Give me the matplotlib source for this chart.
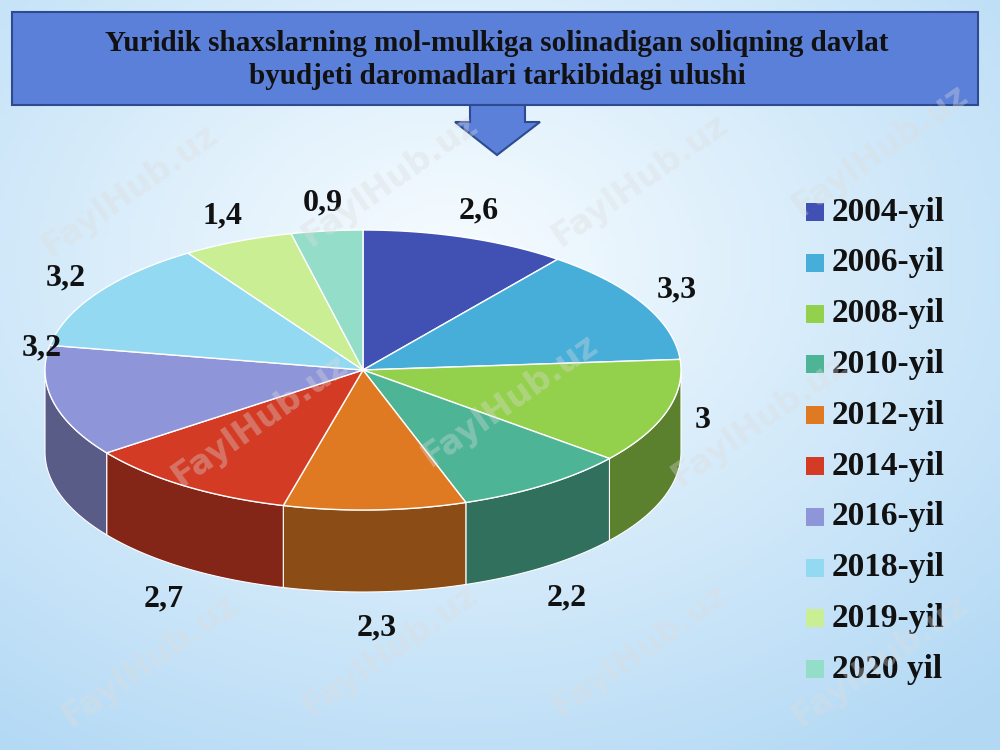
import numpy as np
import matplotlib
matplotlib.use("Agg")
import matplotlib.pyplot as plt
from matplotlib.patches import Polygon, Rectangle

years = ["2004-yil","2006-yil","2008-yil","2010-yil","2012-yil","2014-yil","2016-yil","2018-yil","2019-yil","2020 yil"]
values = [2.6, 3.3, 3, 2.2, 2.3, 2.7, 3.2, 3.2, 1.4, 0.9]
labels = ["2,6","3,3","3","2,2","2,3","2,7","3,2","3,2","1,4","0,9"]
colors = ["#4151B3","#46AED9","#93D04B","#4DB595","#E07A22","#D33B25","#8F95D9","#93D9F1","#C9EE93","#93DDC9"]
title = "Yuridik shaxslarning mol-mulkiga solinadigan soliqning davlat\nbyudjeti daromadlari tarkibidagi ulushi"

fig = plt.figure(figsize=(10, 7.5), dpi=100)
ax = fig.add_axes([0, 0, 1, 1])
ax.set_xlim(0, 1000); ax.set_ylim(750, 0); ax.axis("off")

yy, xx = np.mgrid[0:1:200j, 0:1:200j]
r = np.sqrt((xx-0.45)**2 + (yy-0.35)**2)
bg = np.zeros((200, 200, 3))
c0 = np.array([0.97, 0.99, 1.0]); c1 = np.array([0.70, 0.85, 0.96])
t = np.clip(r/0.8, 0, 1)[..., None]
bg[:] = c0*(1-t) + c1*t
ax.imshow(bg, extent=[0, 1000, 750, 0], aspect="auto", zorder=0)

for (wx, wy) in [(130,190),(390,180),(640,180),(880,150),(260,420),(510,400),(760,420),
                 (150,660),(390,650),(640,650),(880,660)]:
    ax.text(wx, wy, "FaylHub.uz", rotation=35, fontsize=24, fontweight="bold", color="#dddddd", alpha=0.35,
            ha="center", va="center", family="DejaVu Sans", zorder=11)

ax.add_patch(Rectangle((12, 12), 966, 93, facecolor="#5B80DA", edgecolor="#2E4A90", lw=1.5, zorder=5))
ax.add_patch(Polygon([(470,105),(525,105),(525,122),(540,122),(497,155),(455,122),(470,122)],
                     closed=True, facecolor="#5B80DA", edgecolor="#2E4A90", lw=1.5, zorder=5))
ax.text(497, 60, title, ha="center", va="center", fontsize=21, fontweight="bold",
        family="Liberation Serif", color="#111111", zorder=6, linespacing=1.3)

cx, cy, rx, ry, depth = 363, 370, 318, 140, 82
def pt(th):
    return cx + rx*np.cos(th), cy - ry*np.sin(th)

total = sum(values)
angs = [np.pi/2]
for v in values:
    angs.append(angs[-1] - 2*np.pi*v/total)

def darker(c, f=0.6):
    return tuple(np.array(matplotlib.colors.to_rgb(c))*f)

for i, v in enumerate(values):
    lo, hi = angs[i+1], angs[i]
    for k in range(-2, 2):
        s_lo, s_hi = max(lo, -np.pi + 2*np.pi*k), min(hi, 2*np.pi*k)
        if s_hi > s_lo:
            th = np.linspace(s_lo, s_hi, 60)
            x, y = pt(th)
            poly = list(zip(x, y)) + list(zip(x[::-1], (y + depth)[::-1]))
            ax.add_patch(Polygon(poly, closed=True, facecolor=darker(colors[i], 0.62),
                                 edgecolor="white", lw=0.8, zorder=8))
for i, v in enumerate(values):
    th = np.linspace(angs[i], angs[i+1], 100)
    x, y = pt(th)
    ax.add_patch(Polygon([(cx, cy)] + list(zip(x, y)), closed=True, facecolor=colors[i],
                         edgecolor="white", lw=1.0, zorder=9))

for i, v in enumerate(values):
    m = (angs[i] + angs[i+1]) / 2
    lx = max(cx + rx*1.12*np.cos(m), 42)
    ly = cy - ry*1.2*np.sin(m) + (depth*1.1 if np.sin(m) < -0.3 else 0)
    if np.cos(m) < -0.95:
        ly -= 60
    ax.text(lx, ly, labels[i], ha="center", va="center", fontsize=23, fontweight="bold",
            family="Liberation Serif", color="#111111", zorder=10)

for i, yname in enumerate(years):
    ly = 212 + i*50.8
    ax.add_patch(Rectangle((806, ly-9), 18, 18, facecolor=colors[i], edgecolor="none", zorder=10))
    ax.text(832, ly, yname, ha="left", va="center", fontsize=24, fontweight="bold",
            family="Liberation Serif", color="#111111", zorder=10)

fig.savefig("out.png", dpi=100)
